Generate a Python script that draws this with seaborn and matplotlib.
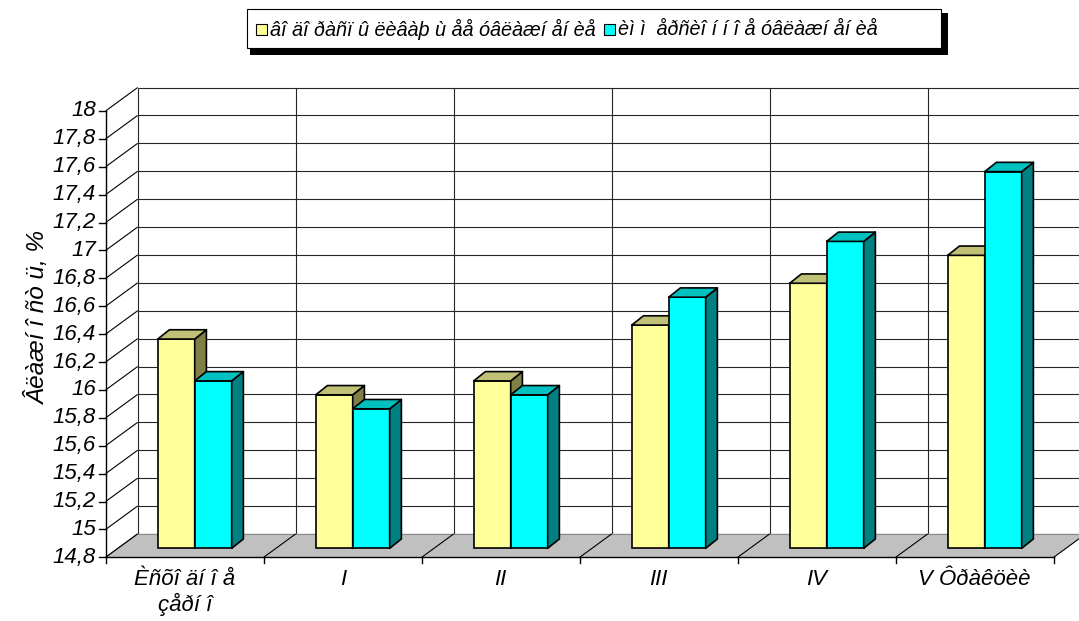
import matplotlib
matplotlib.use("Agg")
import matplotlib.pyplot as plt
from matplotlib.patches import Polygon, Rectangle
import pandas as pd
import seaborn as sns

# ---- data -------------------------------------------------------------
categories = ["Èñõî äí î å\nçåðí î", "I", "II", "III", "IV", "V Ôðàêöèè"]
series_names = ["âî äî ðàñï û ëèâàþ ù åå óâëàæí åí èå",
                "èì ì  åðñèî í í î å óâëàæí åí èå"]
sprinkling = [16.3, 15.9, 16.0, 16.4, 16.7, 16.9]
immersion = [16.0, 15.8, 15.9, 16.6, 17.0, 17.5]
y_ticks = [14.8, 15.0, 15.2, 15.4, 15.6, 15.8, 16.0, 16.2, 16.4, 16.6,
           16.8, 17.0, 17.2, 17.4, 17.6, 17.8, 18.0]
y_tick_labels = ["14,8", "15", "15,2", "15,4", "15,6", "15,8", "16", "16,2",
                 "16,4", "16,6", "16,8", "17", "17,2", "17,4", "17,6", "17,8", "18"]
y_label = "Âëàæí î ñò ü, %"
front_colors = ["#FFFF99", "#00FFFF"]
top_colors = ["#C0C077", "#00C0C0"]
side_colors = ["#808046", "#008080"]

# ---- figure / pseudo-3D geometry ---------------------------------------
W, H = 1079, 621
fig = plt.figure(figsize=(W / 100, H / 100), dpi=100)
fig.patch.set_facecolor("white")
ax = fig.add_axes([0, 0, 1, 1])

PX_CAT = 158.0      # pixels per category step
PX_UNIT = 139.5     # pixels per value unit
X0_PX = 194.7       # pixel of the first category centre (bar plane)
BASE_PX = 548.3     # pixel row of the floor in the bar plane
Y0, Y1 = y_ticks[0], y_ticks[-1]
n = len(categories)


def dx(px):
    return px / PX_CAT


def dy(px):
    return px / PX_UNIT


FX, FY = dx(-10), dy(-9)      # front plane (axes) relative to bar plane
BX, BY = dx(22), dy(14.4)     # back wall relative to bar plane
DX, DY = dx(11.7), dy(9.3)    # depth of each bar

plt.rcParams["font.family"] = ["Liberation Sans", "DejaVu Sans"]
FS_TICK = 16
FS_LEG = 14.3
FS_YLAB = 17.5

df = pd.DataFrame({
    "category": categories * 2,
    "value": sprinkling + immersion,
    "series": [series_names[0]] * n + [series_names[1]] * n,
})

sns.barplot(data=df, x="category", y="value", hue="series",
            palette=front_colors, saturation=1, width=0.468, gap=0,
            edgecolor="black", linewidth=1.2, legend=False, ax=ax)

ax.set_xlim(-X0_PX / PX_CAT, (W - X0_PX) / PX_CAT)
ax.set_ylim(Y0 - (H - BASE_PX) / PX_UNIT, Y0 + BASE_PX / PX_UNIT)
ax.axis("off")

line_kw = dict(color="black", lw=0.8, solid_capstyle="butt")
grid_kw = dict(color="#262626", lw=0.8, solid_capstyle="butt")
left_f, left_b = -0.5 + FX, -0.5 + BX

# back wall: horizontal and vertical gridlines
for v in y_ticks:
    ax.plot([left_b, n + 1], [v + BY, v + BY], zorder=1, **grid_kw)
for k in range(0, n + 1):
    xb = k - 0.5 + BX
    ax.plot([xb, xb], [Y0 + BY, Y1 + BY], zorder=1, **grid_kw)
# left wall diagonals
for v in y_ticks:
    ax.plot([left_f, left_b], [v + FY, v + BY], zorder=1, **line_kw)

# floor
floor = Polygon([(left_f, Y0 + FY), (n - 0.5 + FX, Y0 + FY),
                 (n - 0.5 + BX, Y0 + BY), (left_b, Y0 + BY)],
                closed=True, facecolor="#C0C0C0", edgecolor="none", zorder=1.5)
ax.add_patch(floor)
ax.plot([left_b, n - 0.5 + BX], [Y0 + BY, Y0 + BY], zorder=1.6,
        color="#8a8a8a", lw=0.8)
for k in range(0, n + 1):
    ax.plot([k - 0.5 + FX, k - 0.5 + BX], [Y0 + FY, Y0 + BY], zorder=1.6, **line_kw)

# bars: move base onto the floor and add top / side faces
for s, cont in enumerate(ax.containers):
    z = 3 + s
    for p in cont.patches:
        x0, w, top = p.get_x(), p.get_width(), p.get_height()
        p.set_y(Y0)
        p.set_height(top - Y0)
        p.set_zorder(z)
        top_face = Polygon([(x0, top), (x0 + w, top), (x0 + w + DX, top + DY),
                            (x0 + DX, top + DY)], closed=True,
                           facecolor=top_colors[s], edgecolor="black",
                           linewidth=1.2, joinstyle="round", zorder=z)
        side_face = Polygon([(x0 + w, Y0), (x0 + w + DX, Y0 + DY),
                             (x0 + w + DX, top + DY), (x0 + w, top)], closed=True,
                            facecolor=side_colors[s], edgecolor="black",
                            linewidth=1.2, joinstyle="round", zorder=z)
        ax.add_patch(side_face)
        ax.add_patch(top_face)

# front axes
ax.plot([left_f, left_f], [Y0 + FY, Y1 + FY], zorder=6, color="black", lw=1.0)
ax.plot([left_f, n - 0.5 + FX], [Y0 + FY, Y0 + FY], zorder=6, color="black", lw=1.0)
for v, lab in zip(y_ticks, y_tick_labels):
    ax.plot([left_f - dx(7), left_f], [v + FY, v + FY], zorder=6, color="black", lw=1.0)
    ax.text(left_f - dx(10), v + FY, lab, ha="right", va="center",
            fontsize=FS_TICK, style="italic")
for k in range(0, n + 1):
    xk = k - 0.5 + FX
    ax.plot([xk, xk], [Y0 + FY, Y0 + FY - dy(6)], zorder=6, color="black", lw=1.0)
for i, lab in enumerate(categories):
    ax.text(i + FX, Y0 + FY - dy(12), lab, ha="center", va="top",
            fontsize=FS_TICK, style="italic", linespacing=1.15)

fig.text(38 / W, 1 - 317 / H, y_label, rotation=90, ha="center", va="center",
         fontsize=FS_YLAB, style="italic")

# legend box with drop shadow
def fig_rect(x0, y0, x1, y1, **kw):
    return Rectangle((x0 / W, 1 - y1 / H), (x1 - x0) / W, (y1 - y0) / H,
                     transform=fig.transFigure, **kw)


fig.add_artist(fig_rect(250, 13, 948, 55, facecolor="black", edgecolor="none", zorder=10))
fig.add_artist(fig_rect(246.7, 9.3, 940.7, 48, facecolor="white", edgecolor="black",
                        linewidth=0.8, zorder=11))
legend_items = [(256, series_names[0], front_colors[0]),
                (604, series_names[1], front_colors[1])]
for x_px, name, col in legend_items:
    fig.add_artist(fig_rect(x_px, 24, x_px + 11, 35, facecolor=col,
                            edgecolor="black", linewidth=0.8, zorder=12))
    fig.text((x_px + 14) / W, 1 - 29.5 / H, name, ha="left", va="center",
             fontsize=FS_LEG, style="italic", zorder=12)

fig.savefig("out.png", dpi=100)
